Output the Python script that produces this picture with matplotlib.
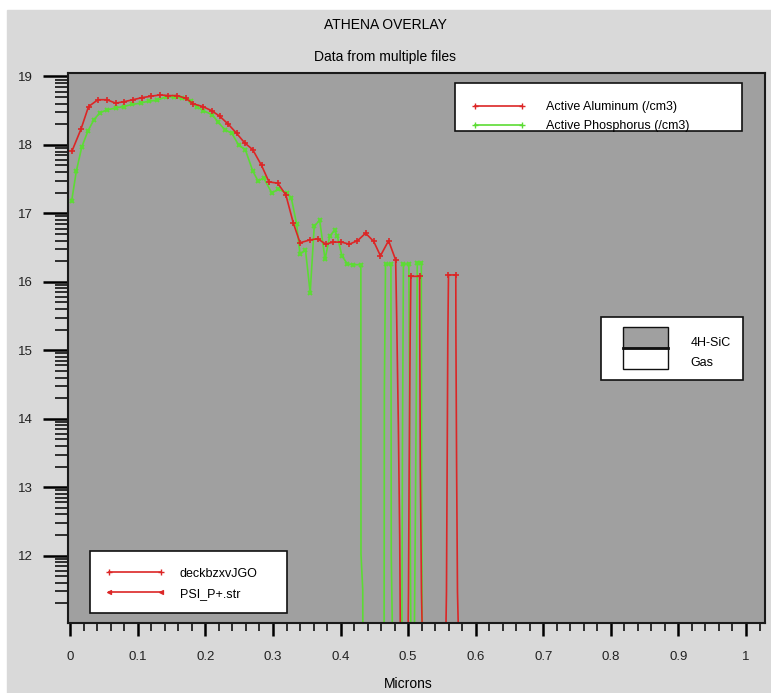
import matplotlib.pyplot as plt
import numpy as np
from matplotlib.lines import Line2D
from matplotlib.patches import Rectangle
from matplotlib.transforms import Affine2D

plt.rcParams['font.family'] = ['Liberation Sans', 'DejaVu Sans']

# Active Aluminum (/cm3), log10 values vs depth in microns
al_x = [0.0025, 0.0158, 0.027, 0.041, 0.054, 0.067, 0.079, 0.093, 0.106, 0.119,
        0.133, 0.145, 0.158, 0.171, 0.182, 0.196, 0.209, 0.221, 0.234, 0.246,
        0.258, 0.270, 0.283, 0.294, 0.307, 0.319, 0.330, 0.340, 0.354, 0.366,
        0.378, 0.389, 0.401, 0.413, 0.425, 0.437, 0.449, 0.459, 0.471, 0.4815,
        0.4830, 0.4855, 0.4875, 0.4890,
        0.4990, 0.5005, 0.5015, 0.5030, 0.5040, 0.5170, 0.5172, 0.5180, 0.5197, 0.5225,
        0.5545, 0.5567, 0.5577, 0.5587, 0.5597, 0.5705, 0.5707, 0.5717, 0.5730, 0.5765]
al_y = [17.91, 18.23, 18.56, 18.66, 18.66, 18.61, 18.63, 18.66, 18.69, 18.71,
        18.73, 18.72, 18.72, 18.68, 18.60, 18.56, 18.50, 18.42, 18.30, 18.17,
        18.03, 17.93, 17.70, 17.46, 17.44, 17.27, 16.86, 16.57, 16.61, 16.63,
        16.55, 16.58, 16.58, 16.55, 16.60, 16.71, 16.59, 16.38, 16.60, 16.32,
        15.50, 13.90, 12.26, 10.00,
        10.00, 11.47, 13.30, 15.20, 16.08, 16.08, 15.20, 13.30, 11.47, 10.00,
        10.00, 11.47, 13.30, 15.20, 16.10, 16.10, 15.20, 13.30, 11.47, 10.00]

# Active Phosphorus (/cm3)
p_x = [0.002, 0.009, 0.017, 0.026, 0.035, 0.044, 0.054, 0.067, 0.079, 0.091,
       0.104, 0.116, 0.128, 0.141, 0.153, 0.166, 0.178, 0.187, 0.197, 0.210,
       0.219, 0.229, 0.239, 0.249, 0.259, 0.270, 0.278, 0.286, 0.298, 0.308,
       0.320, 0.327, 0.335, 0.340, 0.348, 0.355, 0.361, 0.369, 0.377, 0.384,
       0.391, 0.395, 0.402, 0.410, 0.419, 0.430,
       0.4302, 0.4328, 0.4332,
       0.4643, 0.4648, 0.4665, 0.4745, 0.4750, 0.4780,
       0.4905, 0.4915, 0.4930, 0.5010, 0.5030, 0.5045,
       0.5085, 0.5110, 0.5135, 0.5195, 0.5200, 0.5210]
p_y = [17.18, 17.62, 17.97, 18.20, 18.37, 18.47, 18.51, 18.54, 18.56, 18.59,
       18.61, 18.64, 18.65, 18.70, 18.70, 18.68, 18.64, 18.56, 18.50, 18.44,
       18.33, 18.22, 18.17, 18.00, 17.93, 17.62, 17.47, 17.52, 17.30, 17.35,
       17.30, 17.23, 16.84, 16.40, 16.47, 15.84, 16.81, 16.90, 16.33, 16.67,
       16.75, 16.67, 16.38, 16.26, 16.25, 16.25,
       12.02, 11.50, 10.00,
       10.00, 14.40, 16.26, 16.26, 12.00, 10.00,
       10.00, 13.50, 16.26, 16.26, 12.50, 10.00,
       10.00, 13.00, 16.28, 16.28, 13.00, 10.00]

x_ticks = [0, 0.1, 0.2, 0.3, 0.4, 0.5, 0.6, 0.7, 0.8, 0.9, 1]
x_labels = ['0', '0.1', '0.2', '0.3', '0.4', '0.5', '0.6', '0.7', '0.8', '0.9', '1']
y_ticks = [12, 13, 14, 15, 16, 17, 18, 19]

RED = '#dc2626'
GREEN = '#5cdc34'
W, H = 771, 693

fig = plt.figure(figsize=(W / 100, H / 100), dpi=100, facecolor='white')
# pixel coordinates of the reference, origin top-left
px = Affine2D().scale(1 / W, -1 / H).translate(0, 1) + fig.transFigure

fig.patches.append(Rectangle((7, 9.5), W, H, transform=px, color='#d9d9d9', zorder=-10))

ax = fig.add_axes([68 / W, 1 - 623 / H, 697 / W, 550 / H])
ax.set_facecolor('#a0a0a0')
ax.set_xlim(-0.0034, 1.0281)
ax.set_ylim(11.016, 19.05)

ax.plot(p_x, p_y, color=GREEN, lw=1.2, marker='x', ms=3.5, mew=1.4,
        markevery=[v > 15.6 for v in p_y])
ax.plot(al_x, al_y, color=RED, lw=1.2, marker='+', ms=5, mew=1.2,
        markevery=[v > 15.6 for v in al_y])

for s in ax.spines.values():
    s.set_linewidth(1.5)
    s.set_color('#1a1a1a')

ax.set_xticks(x_ticks)
ax.set_xticklabels(x_labels)
ax.set_xticks(np.arange(0, 1.03, 0.02), minor=True)
ax.set_yticks(y_ticks)
ax.set_yticklabels([str(t) for t in y_ticks])
minor_y = [n + np.log10(k) for n in range(11, 19) for k in range(2, 10)]
ax.set_yticks([m for m in minor_y if m > 11.016], minor=True)

ax.tick_params(axis='x', which='major', direction='out', length=9.6, width=1.8,
               pad=10.5, labelsize=9.5, labelcolor='#222222')
ax.tick_params(axis='x', which='minor', direction='out', length=6, width=1.1)
ax.tick_params(axis='y', which='major', direction='out', length=18, width=1.8,
               pad=7, labelsize=9.5, labelcolor='#222222')
ax.tick_params(axis='y', which='minor', direction='out', length=9.5, width=1.1)

fig.text(385.5, 25, 'ATHENA OVERLAY', transform=px, ha='center', va='center', fontsize=10)
fig.text(385.5, 57, 'Data from multiple files', transform=px, ha='center', va='center', fontsize=10)
fig.text(408, 684, 'Microns', transform=px, ha='center', va='center', fontsize=10)

# legend: species
fig.patches.append(Rectangle((455, 83.3), 287.3, 48, transform=px, facecolor='white',
                             edgecolor='#111111', lw=1.2, zorder=5))
fig.lines.append(Line2D([475, 522], [105.7, 105.7], transform=px, color=RED, lw=1.2,
                        marker='+', ms=4, mew=1, zorder=6))
fig.lines.append(Line2D([475, 522], [125, 125], transform=px, color=GREEN, lw=1.2,
                        marker='+', ms=4, mew=1, zorder=6))
fig.text(546, 107, 'Active Aluminum (/cm3)', transform=px, va='center', fontsize=9, zorder=6)
fig.text(546, 126, 'Active Phosphorus (/cm3)', transform=px, va='center', fontsize=9, zorder=6)

# legend: materials
fig.patches.append(Rectangle((600.7, 317.3), 142, 62.7, transform=px, facecolor='white',
                             edgecolor='#111111', lw=1.2, zorder=5))
fig.patches.append(Rectangle((622.7, 327.3), 45.6, 21, transform=px, facecolor='#a0a0a0',
                             edgecolor='#111111', lw=1, zorder=6))
fig.patches.append(Rectangle((622.7, 348.3), 45.6, 21, transform=px, facecolor='white',
                             edgecolor='#111111', lw=1, zorder=6))
fig.lines.append(Line2D([622.7, 668.3], [348.3, 348.3], transform=px, color='#111111',
                        lw=2, zorder=7))
fig.text(690.7, 342.5, '4H-SiC', transform=px, va='center', fontsize=9, zorder=6)
fig.text(690.7, 363, 'Gas', transform=px, va='center', fontsize=9, zorder=6)

# legend: files
fig.patches.append(Rectangle((90, 551), 197.3, 61.7, transform=px, facecolor='white',
                             edgecolor='#111111', lw=1.2, zorder=5))
fig.lines.append(Line2D([109.3, 161], [572.3, 572.3], transform=px, color=RED, lw=1.2,
                        marker='+', ms=4, mew=1, zorder=6))
fig.lines.append(Line2D([109.3, 161], [592.3, 592.3], transform=px, color=RED, lw=1.2,
                        marker='<', ms=3, mew=0.8, zorder=6))
fig.text(180, 574, 'deckbzxvJGO', transform=px, va='center', fontsize=9, zorder=6)
fig.text(180, 594, 'PSI_P+.str', transform=px, va='center', fontsize=9, zorder=6)

fig.savefig('out.png', dpi=100, facecolor='white')
